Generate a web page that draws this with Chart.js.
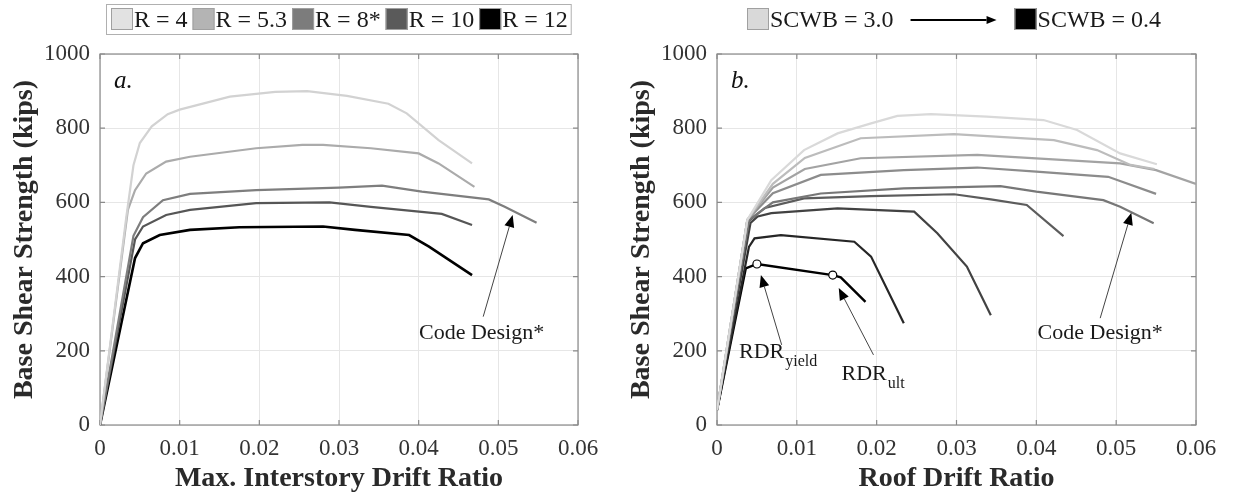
<!DOCTYPE html>
<html>
<head>
<meta charset="utf-8">
<script src="https://cdn.jsdelivr.net/npm/chart.js@4.4.1/dist/chart.umd.min.js"></script>
<style>
  body { margin: 0; background: #fff; width: 1233px; height: 496px; overflow: hidden; position: relative; }
  .panel { position: absolute; top: 0; width: 616px; height: 496px; }
</style>
</head>
<body>
<div class="panel" style="left:0"><canvas id="chartA" width="616" height="496"></canvas></div>
<div class="panel" style="left:617px"><canvas id="chartB" width="616" height="496"></canvas></div>
<script>
// axis ticks shared by both panels
const driftTicks = [0, 0.01, 0.02, 0.03, 0.04, 0.05, 0.06];
const driftTickLabels = ['0', '0.01', '0.02', '0.03', '0.04', '0.05', '0.06'];
const shearTicks = [0, 200, 400, 600, 800, 1000];
const shearTickLabels = ['0', '200', '400', '600', '800', '1000'];

// panel a: pushover curves vs max. interstory drift, one per R factor
const rLabels = ['R = 4', 'R = 5.3', 'R = 8*', 'R = 10', 'R = 12'];
const rColors = ['#d2d2d2', '#ababab', '#7e7e7e', '#565656', '#000000'];
const rSwatch = ['#e2e2e2', '#b4b4b4', '#7c7c7c', '#5a5a5a', '#000000'];
const curveR4 = [[0, 0], [0.0033, 560], [0.0042, 700], [0.005, 760], [0.0065, 805], [0.0085, 838], [0.01, 850], [0.0163, 885], [0.022, 898], [0.026, 900], [0.031, 887], [0.0362, 866], [0.0385, 840], [0.0425, 768], [0.0467, 705]];
const curveR53 = [[0, 0], [0.0035, 580], [0.0044, 633], [0.0058, 678], [0.0083, 710], [0.0113, 723], [0.0196, 746], [0.0254, 755], [0.028, 755], [0.034, 746], [0.04, 732], [0.0425, 705], [0.047, 642]];
const curveR8 = [[0, 0], [0.0042, 510], [0.0054, 560], [0.0079, 606], [0.0113, 623], [0.0196, 633], [0.03, 640], [0.0354, 645], [0.0404, 629], [0.0488, 608], [0.0508, 588], [0.0548, 545]];
const curveR10 = [[0, 0], [0.0044, 500], [0.0054, 535], [0.0083, 566], [0.0113, 580], [0.0196, 598], [0.0288, 600], [0.034, 588], [0.0429, 569], [0.0467, 539]];
const curveR12 = [[0, 0], [0.0044, 450], [0.0054, 490], [0.0075, 512], [0.0113, 526], [0.0175, 533], [0.028, 535], [0.032, 526], [0.0388, 512], [0.0413, 481], [0.0467, 404]];

// panel b: pushover curves vs roof drift, SCWB from 3.0 down to 0.4
const scwbColors = ['#d9d9d9', '#bcbcbc', '#a3a3a3', '#8c8c8c', '#777777', '#5c5c5c', '#424242', '#262626', '#000000'];
const scwb1 = [[0, 40], [0.0038, 553], [0.0068, 660], [0.0109, 741], [0.0151, 786], [0.0193, 813], [0.0226, 833], [0.0268, 838], [0.0338, 831], [0.0409, 822], [0.0451, 795], [0.0505, 732], [0.0551, 703]];
const scwb2 = [[0, 40], [0.0038, 553], [0.007, 650], [0.011, 720], [0.018, 773], [0.0297, 784], [0.0422, 768], [0.0476, 741], [0.0518, 701], [0.0548, 690]];
const scwb3 = [[0, 40], [0.0038, 553], [0.007, 640], [0.011, 690], [0.018, 719], [0.0326, 728], [0.0505, 705], [0.055, 687], [0.06, 650]];
const scwb4 = [[0, 40], [0.0038, 553], [0.007, 625], [0.013, 674], [0.0234, 687], [0.0326, 694], [0.04, 683], [0.049, 669], [0.055, 623]];
const scwb5 = [[0, 40], [0.004, 553], [0.007, 600], [0.013, 624], [0.0234, 638], [0.0355, 644], [0.04, 629], [0.0484, 606], [0.0505, 588], [0.0547, 544]];
const scwb6 = [[0, 40], [0.004, 550], [0.006, 585], [0.0109, 611], [0.0193, 617], [0.0297, 622], [0.0343, 608], [0.0388, 593], [0.0434, 509]];
const scwb7 = [[0, 40], [0.0042, 545], [0.0051, 562], [0.0068, 571], [0.0151, 584], [0.0247, 575], [0.0276, 517], [0.0313, 427], [0.0343, 296]];
const scwb8 = [[0, 40], [0.004, 480], [0.0047, 503], [0.008, 512], [0.0172, 494], [0.0193, 454], [0.0234, 274]];
const scwb9 = [[0, 40], [0.0036, 422], [0.005, 434], [0.0145, 404], [0.0155, 398], [0.0186, 332]];
// RDR yield / ultimate markers sit on points 2 and 3 of the last curve
const scwb9Markers = [0, 0, 4, 4, 0, 0];

const serif = '"Liberation Serif", "Times New Roman", serif';

function toPoints(pairs) {
    return pairs.map(p => ({ x: p[0], y: p[1] }));
}

function arrow(ctx, x0, y0, x1, y1, style) {
    const s = style || {};
    const ang = Math.atan2(y1 - y0, x1 - x0);
    const len = s.len || 12, half = s.half || 5;
    ctx.strokeStyle = s.color || '#444';
    ctx.lineWidth = s.width || 1;
    ctx.beginPath();
    ctx.moveTo(x0, y0);
    ctx.lineTo(x1 - Math.cos(ang) * len, y1 - Math.sin(ang) * len);
    ctx.stroke();
    ctx.fillStyle = '#000';
    ctx.beginPath();
    ctx.moveTo(x1, y1);
    ctx.lineTo(x1 - Math.cos(ang) * len - Math.sin(ang) * half, y1 - Math.sin(ang) * len + Math.cos(ang) * half);
    ctx.lineTo(x1 - Math.cos(ang) * len + Math.sin(ang) * half, y1 - Math.sin(ang) * len - Math.cos(ang) * half);
    ctx.closePath();
    ctx.fill();
}

// box around the axes plus inward tick marks on all four sides
const framePlugin = {
    id: 'frame',
    beforeDatasetsDraw(chart) {
        const { ctx, chartArea: a, scales } = chart;
        ctx.save();
        ctx.strokeStyle = '#8a8a8a';
        ctx.lineWidth = 1.2;
        ctx.strokeRect(a.left, a.top, a.right - a.left, a.bottom - a.top);
        ctx.beginPath();
        driftTicks.forEach(v => {
            const x = scales.x.getPixelForValue(v);
            ctx.moveTo(x, a.bottom); ctx.lineTo(x, a.bottom - 5);
            ctx.moveTo(x, a.top); ctx.lineTo(x, a.top + 5);
        });
        shearTicks.forEach(v => {
            const y = scales.y.getPixelForValue(v);
            ctx.moveTo(a.left, y); ctx.lineTo(a.left + 5, y);
            ctx.moveTo(a.right, y); ctx.lineTo(a.right - 5, y);
        });
        ctx.stroke();
        ctx.restore();
    }
};

// panel letter, arrows and text labels
const notesPlugin = {
    id: 'notes',
    afterDatasetsDraw(chart, args, opts) {
        const { ctx, chartArea: a, scales } = chart;
        const px = v => scales.x.getPixelForValue(v);
        const py = v => scales.y.getPixelForValue(v);
        ctx.save();
        ctx.fillStyle = '#111';
        ctx.font = 'italic 25px ' + serif;
        ctx.textBaseline = 'middle';
        ctx.fillText(opts.letter, a.left + 14, a.top + 27);

        (opts.arrows || []).forEach(r => arrow(ctx, px(r[0]), py(r[1]), px(r[2]), py(r[3])));

        ctx.fillStyle = '#1a1a1a';
        ctx.textBaseline = 'alphabetic';
        (opts.texts || []).forEach(t => {
            ctx.font = '22px ' + serif;
            ctx.textAlign = t.sub ? 'left' : 'center';
            const x = px(t.x), y = py(t.y);
            ctx.fillText(t.text, x, y);
            if (t.sub) {
                const w = ctx.measureText(t.text).width;
                ctx.font = '16px ' + serif;
                ctx.fillText(t.sub, x + w + 1, y + 8);
            }
        });
        ctx.restore();
    }
};

// legend strip above each panel
const keyPlugin = {
    id: 'key',
    afterDraw(chart, args, opts) {
        const ctx = chart.ctx;
        ctx.save();
        ctx.font = '24px ' + serif;
        ctx.textBaseline = 'middle';
        ctx.fillStyle = '#1a1a1a';
        let x = opts.start;
        const top = 8, sw = 22, mid = 20;
        opts.items.forEach(it => {
            if (it.arrow) {
                arrow(ctx, x, mid, x + it.arrow, mid, { color: '#000', width: 2, len: 10, half: 4 });
                x += it.arrow + 18;
                return;
            }
            ctx.fillStyle = it.color;
            ctx.fillRect(x, top, sw, sw);
            ctx.strokeStyle = '#a0a0a0';
            ctx.lineWidth = 1;
            ctx.strokeRect(x + 0.5, top + 0.5, sw - 1, sw - 1);
            x += sw + 1;
            ctx.fillStyle = '#1a1a1a';
            ctx.fillText(it.label, x, mid + 1);
            x += ctx.measureText(it.label).width + (it.gap || 4);
        });
        if (opts.boxed) {
            ctx.strokeStyle = '#b0b0b0';
            ctx.lineWidth = 1;
            ctx.strokeRect(opts.start - 4.5, 4.5, x - opts.start + 3, 30);
        }
        ctx.restore();
    }
};

function axisOptions(xTitle) {
    const tickFont = { family: serif, size: 23 };
    const titleFont = { family: serif, size: 28, weight: 'bold' };
    return {
        x: {
            type: 'linear', min: 0, max: 0.06,
            afterBuildTicks: s => { s.ticks = driftTicks.map(v => ({ value: v })); },
            afterFit: s => { s.height = 71; },
            ticks: { callback: (v, i) => driftTickLabels[i], font: tickFont, color: '#333', padding: 10, maxRotation: 0 },
            grid: { color: '#e6e6e6', drawTicks: false },
            border: { display: false },
            title: { display: true, text: xTitle, font: titleFont, color: '#2a2a2a', padding: { top: 0, bottom: 0 } }
        },
        y: {
            type: 'linear', min: 0, max: 1000,
            afterBuildTicks: s => { s.ticks = shearTicks.map(v => ({ value: v })); },
            afterFit: s => { s.width = 100; },
            ticks: { callback: (v, i) => shearTickLabels[i], font: tickFont, color: '#333', padding: 10 },
            grid: { color: '#e6e6e6', drawTicks: false },
            border: { display: false },
            title: { display: true, text: 'Base Shear Strength (kips)', font: titleFont, color: '#2a2a2a', padding: { top: 8, bottom: 0 } }
        }
    };
}

const seriesA = [curveR4, curveR53, curveR8, curveR10, curveR12];
new Chart(document.getElementById('chartA'), {
    type: 'line',
    data: {
        datasets: seriesA.map((pts, i) => ({
            label: rLabels[i],
            data: toPoints(pts),
            borderColor: rColors[i],
            borderWidth: i === 4 ? 2.6 : 2.2,
            pointRadius: 0,
            tension: 0,
            fill: false
        }))
    },
    options: {
        responsive: false,
        animation: false,
        layout: { padding: { top: 54, right: 38, left: 0, bottom: 0 } },
        plugins: {
            legend: { display: false },
            tooltip: { enabled: false },
            notes: {
                letter: 'a.',
                arrows: [[0.0481, 292, 0.0518, 566]],
                texts: [{ text: 'Code Design*', x: 0.0479, y: 232 }]
            },
            key: {
                start: 111, boxed: true,
                items: rLabels.map((l, i) => ({ label: l, color: rSwatch[i], gap: 5 }))
            }
        },
        scales: axisOptions('Max. Interstory Drift Ratio')
    },
    plugins: [framePlugin, notesPlugin, keyPlugin]
});

const seriesB = [scwb1, scwb2, scwb3, scwb4, scwb5, scwb6, scwb7, scwb8, scwb9];
new Chart(document.getElementById('chartB'), {
    type: 'line',
    data: {
        datasets: seriesB.map((pts, i) => ({
            label: 'SCWB ' + (i + 1),
            data: toPoints(pts),
            borderColor: scwbColors[i],
            borderWidth: i === 8 ? 2.4 : 2.2,
            pointRadius: i === 8 ? scwb9Markers : 0,
            pointStyle: 'circle',
            pointBackgroundColor: '#fff',
            pointBorderColor: '#000',
            pointBorderWidth: 1.2,
            tension: 0,
            fill: false
        }))
    },
    options: {
        responsive: false,
        animation: false,
        layout: { padding: { top: 54, right: 37, left: 0, bottom: 0 } },
        plugins: {
            legend: { display: false },
            tooltip: { enabled: false },
            notes: {
                letter: 'b.',
                arrows: [
                    [0.048, 288, 0.0519, 572],
                    [0.0081, 216, 0.0055, 404],
                    [0.0196, 189, 0.01525, 369]
                ],
                texts: [
                    { text: 'Code Design*', x: 0.048, y: 232 },
                    { text: 'RDR', sub: 'yield', x: 0.00275, y: 181 },
                    { text: 'RDR', sub: 'ult', x: 0.0156, y: 121 }
                ]
            },
            key: {
                start: 130, boxed: false,
                items: [
                    { label: 'SCWB = 3.0', color: scwbColors[0], gap: 17 },
                    { arrow: 86 },
                    { label: 'SCWB = 0.4', color: '#000000', gap: 4 }
                ]
            }
        },
        scales: axisOptions('Roof Drift Ratio')
    },
    plugins: [framePlugin, notesPlugin, keyPlugin]
});
</script>
</body>
</html>
